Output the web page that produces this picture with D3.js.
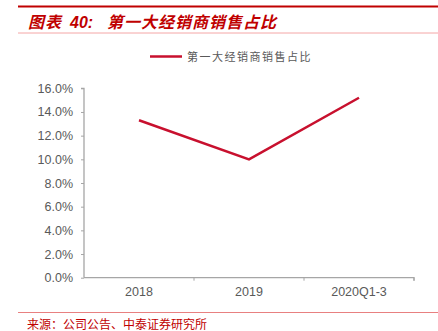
<!DOCTYPE html>
<html><head><meta charset="utf-8">
<script src="https://cdn.jsdelivr.net/npm/d3@7"></script>
<style>body{margin:0;background:#fff;}svg{display:block;}</style>
</head><body>
<svg id="c" width="438" height="331"></svg>
<script>
const categories = ["2018", "2019", "2020Q1-3"];
const shareValues = [13.3, 10.0, 15.2];
const yTicks = [0, 2, 4, 6, 8, 10, 12, 14, 16];
const seriesName = "第一大经销商销售占比";
const titlePrefix = "图表";
const titleNum = "40:";
const titleMain = "第一大经销商销售占比";
const sourceText = "来源：公司公告、中泰证券研究所";

const svg = d3.select("#c");
const m = {left: 84, right: 414, top: 88.3, bottom: 277.7};
const x = d3.scaleBand().domain(categories).range([m.left, m.right]);
const y = d3.scaleLinear().domain([0, 16]).range([m.bottom, m.top]);

// header
svg.append("line").attr("x1", 18).attr("x2", 438).attr("y1", 6.5).attr("y2", 6.5)
  .attr("stroke", "#c00000").attr("stroke-width", 2.2);
svg.append("line").attr("x1", 18).attr("x2", 438).attr("y1", 33).attr("y2", 33)
  .attr("stroke", "#f4a6a6").attr("stroke-width", 1);
const t = svg.append("text").attr("y", 27.5)
  .attr("fill", "#c00000").attr("font-size", 16).attr("font-weight", "bold")
  .attr("font-style", "italic").attr("font-family", "'Noto Sans CJK SC', sans-serif");
t.append("tspan").attr("x", 28).attr("letter-spacing", 1).text(titlePrefix);
t.append("tspan").attr("x", 70).attr("font-family", "'Liberation Sans', Arial, sans-serif").text(titleNum);
t.append("tspan").attr("x", 107).attr("letter-spacing", 1).text(titleMain);

// footer
svg.append("line").attr("x1", 18).attr("x2", 438).attr("y1", 312.5).attr("y2", 312.5)
  .attr("stroke", "#e88080").attr("stroke-width", 1);
svg.append("text").attr("x", 27).attr("y", 329).text(sourceText)
  .attr("fill", "#c00000").attr("font-size", 12)
  .attr("font-family", "'Noto Sans CJK SC', sans-serif");

// axes
const yAxis = svg.append("g").attr("transform", `translate(${m.left},0)`)
  .call(d3.axisLeft(y).tickValues(yTicks).tickSize(3).tickPadding(8).tickFormat(d => d.toFixed(1) + "%"));
const xAxis = svg.append("g").attr("transform", `translate(0,${m.bottom})`)
  .call(d3.axisBottom(x).tickSize(0).tickPadding(9));
xAxis.selectAll(".tick line").remove();
// x ticks at band boundaries
const bounds = categories.map(c => x(c) + x.bandwidth());
xAxis.selectAll(".bt").data(bounds).enter().append("line")
  .attr("x1", d => d).attr("x2", d => d).attr("y1", 0).attr("y2", 3)
  .attr("stroke", "#a6a6a6");
[yAxis, xAxis].forEach(a => {
  a.select(".domain").attr("stroke", "#a6a6a6").attr("stroke-width", 1.3);
  a.selectAll(".tick line").attr("stroke", "#a6a6a6");
  a.selectAll("text").attr("fill", "#595959").attr("font-size", 12.5)
    .attr("font-family", "'Liberation Sans', Arial, sans-serif");
});
yAxis.select(".domain").attr("d", `M-3,${m.top}H0V${m.bottom}`);
xAxis.select(".domain").attr("d", `M${m.left},0H${m.right}V3`);

// line
const line = d3.line().x((d, i) => x(categories[i]) + x.bandwidth() / 2).y(d => y(d));
svg.append("path").datum(shareValues).attr("d", line)
  .attr("fill", "none").attr("stroke", "#c8102e").attr("stroke-width", 2.5)
  .attr("stroke-linejoin", "miter");

// legend
svg.append("line").attr("x1", 150).attr("x2", 182).attr("y1", 56.5).attr("y2", 56.5)
  .attr("stroke", "#c8102e").attr("stroke-width", 2.5);
svg.append("text").attr("x", 187).attr("y", 60.5).text(seriesName)
  .attr("fill", "#595959").attr("font-size", 11).attr("letter-spacing", 1.5)
  .attr("font-family", "'Noto Sans CJK SC', sans-serif");
</script>
</body></html>
